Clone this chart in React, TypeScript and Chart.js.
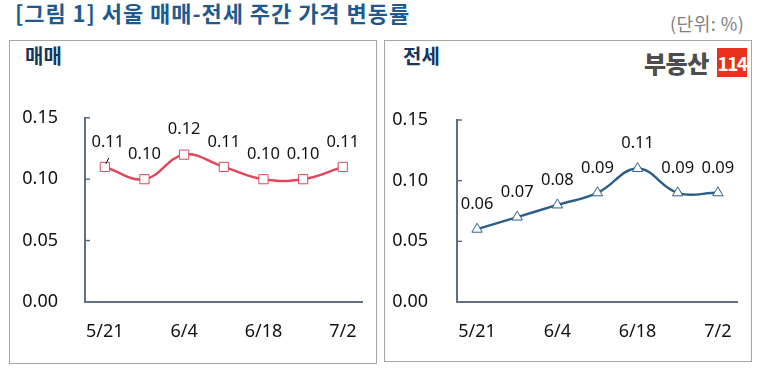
import React, { useEffect, useRef } from "react";
import { Chart, registerables } from "chart.js";

Chart.register(...registerables);

const categories = ["5/21", "5/28", "6/4", "6/11", "6/18", "6/25", "7/2"];
const saleValues = [0.11, 0.1, 0.12, 0.11, 0.1, 0.1, 0.11];
const jeonseValues = [0.06, 0.07, 0.08, 0.09, 0.11, 0.09, 0.09];
const yTicks = [0, 0.05, 0.1, 0.15];

const FONT = "'Noto Sans CJK KR', 'Noto Sans', sans-serif";
const NUM_FONT = "'Noto Sans', 'Noto Sans CJK KR', sans-serif";
const AXIS_COLOR = "#5f6f84";

const labelPlugin = {
  id: "valueLabels",
  afterDatasetsDraw(chart: any) {
    const opts = chart.options.plugins.valueLabels || {};
    const ctx = chart.ctx;
    ctx.save();
    ctx.font = `16.5px ${NUM_FONT}`;
    ctx.fillStyle = "#111";
    ctx.textAlign = "center";
    ctx.textBaseline = "middle";
    chart.data.datasets.forEach((ds: any, di: number) => {
      const meta = chart.getDatasetMeta(di);
      meta.data.forEach((el: any, i: number) => {
        const v = ds.data[i];
        let dx = 0;
        if (opts.leaderIndex === i) {
          dx = 3;
          ctx.strokeStyle = "#111";
          ctx.lineWidth = 1;
          ctx.beginPath();
          ctx.moveTo(el.x + 1, el.y - 3);
          ctx.lineTo(el.x + 4, el.y - 9);
          ctx.stroke();
        }
        ctx.fillText(v.toFixed(2), el.x + dx, el.y - (opts.offset || 25));
      });
    });
    ctx.restore();
  },
};

const innerTicksPlugin = {
  id: "innerTicks",
  afterDraw(chart: any) {
    const y = chart.scales.y;
    const ctx = chart.ctx;
    ctx.save();
    ctx.strokeStyle = AXIS_COLOR;
    ctx.lineWidth = 1.5;
    y.ticks.forEach((t: any) => {
      const py = y.getPixelForValue(t.value);
      ctx.beginPath();
      ctx.moveTo(chart.chartArea.left, py);
      ctx.lineTo(chart.chartArea.left + 5, py);
      ctx.stroke();
    });
    ctx.restore();
  },
};

function LineChart(props: {
  values: number[];
  color: string;
  pointStyle: string;
  pointRadius: number;
  yWidth: number;
  padTop: number;
  padRight: number;
  yPad: number;
  leaderIndex?: number;
}) {
  const ref = useRef<HTMLCanvasElement>(null);
  useEffect(() => {
    const chart = new Chart(ref.current as HTMLCanvasElement, {
      type: "line",
      data: {
        labels: categories,
        datasets: [
          {
            data: props.values,
            borderColor: props.color,
            borderWidth: 2.4,
            tension: 0.4,
            pointStyle: props.pointStyle as any,
            pointRadius: props.pointRadius,
            pointBackgroundColor: "#fff",
            pointBorderColor: props.color,
            pointBorderWidth: 1,
          },
        ],
      },
      options: {
        animation: false,
        responsive: false,
        events: [],
        layout: { padding: { left: 0, right: props.padRight, top: props.padTop, bottom: 0 } },
        plugins: {
          legend: { display: false },
          tooltip: { enabled: false },
          valueLabels: { offset: 25, leaderIndex: props.leaderIndex },
        } as any,
        scales: {
          x: {
            offset: true,
            grid: { display: false, drawTicks: false },
            border: { display: true, color: AXIS_COLOR, width: 2 },
            ticks: {
              autoSkip: false,
              maxRotation: 0,
              padding: 19,
              color: "#111",
              font: { family: NUM_FONT, size: 18 },
              callback: (_v: any, i: number) => (i % 2 === 0 ? categories[i] : ""),
            },
            afterFit: (s: any) => {
              s.height = 60;
            },
          },
          y: {
            min: 0,
            max: 0.15,
            afterBuildTicks: (s: any) => {
              s.ticks = yTicks.map((v) => ({ value: v }));
            },
            grid: { display: false, drawTicks: false },
            border: { display: true, color: AXIS_COLOR, width: 2 },
            ticks: {
              padding: props.yPad,
              color: "#111",
              font: { family: NUM_FONT, size: 18 },
              callback: (v: any) => Number(v).toFixed(2),
            },
            afterFit: (s: any) => {
              s.width = props.yWidth;
            },
          },
        },
      },
      plugins: [labelPlugin, innerTicksPlugin],
    });
    return () => chart.destroy();
  }, []);
  return <canvas ref={ref} width={366} height={282} style={{ display: "block" }} />;
}

export default function App() {
  return (
    <div
      style={{
        position: "fixed",
        left: 0,
        top: 0,
        width: 758,
        height: 369,
        background: "#fff",
        fontFamily: FONT,
        overflow: "hidden",
      }}
    >
      <div
        style={{
          position: "absolute",
          left: 15,
          top: -4,
          fontSize: 22,
          fontWeight: 700,
          color: "#1f5a8f",
          whiteSpace: "nowrap",
          letterSpacing: 0.95,
        }}
      >
        [그림 1] 서울 매매-전세 주간 가격 변동률
      </div>
      <div
        style={{
          position: "absolute",
          left: 670,
          top: 10,
          fontSize: 18,
          color: "#7f7f7f",
          whiteSpace: "nowrap",
          letterSpacing: 0.5,
        }}
      >
        (단위: %)
      </div>

      <div
        style={{
          position: "absolute",
          left: 9,
          top: 40,
          width: 366,
          height: 322,
          border: "1px solid #a6a6a6",
        }}
      />
      <div
        style={{
          position: "absolute",
          left: 384,
          top: 40,
          width: 366,
          height: 320,
          border: "1px solid #a6a6a6",
        }}
      />
      <div
        style={{
          position: "absolute",
          left: 25,
          top: 41,
          fontSize: 20,
          fontWeight: 700,
          color: "#17365d",
        }}
      >
        매매
      </div>
      <div
        style={{
          position: "absolute",
          left: 403,
          top: 41,
          fontSize: 20,
          fontWeight: 700,
          color: "#17365d",
        }}
      >
        전세
      </div>
      <div
        style={{
          position: "absolute",
          left: 644,
          top: 48,
          height: 29,
          display: "flex",
          alignItems: "center",
        }}
      >
        <span
          style={{
            fontSize: 24,
            fontWeight: 900,
            color: "#4d4d4d",
            letterSpacing: -0.5,
            lineHeight: "29px",
            width: 73,
            display: "inline-block",
            whiteSpace: "nowrap",
          }}
        >
          부동산
        </span>
        <span
          style={{
            width: 30,
            height: 29,
            background: "#e8321e",
            color: "#fff",
            fontSize: 19,
            fontWeight: 700,
            display: "flex",
            alignItems: "center",
            justifyContent: "center",
            letterSpacing: -1.5,
          }}
        >
          114
        </span>
      </div>

      <div style={{ position: "absolute", left: 10, top: 80 }}>
        <LineChart
          values={saleValues}
          color="#e2465a"
          pointStyle="rect"
          pointRadius={6.5}
          yWidth={75}
          padTop={34}
          padRight={8}
          yPad={27}
          leaderIndex={0}
        />
      </div>
      <div style={{ position: "absolute", left: 385, top: 80 }}>
        <LineChart
          values={jeonseValues}
          color="#2c5f88"
          pointStyle="triangle"
          pointRadius={6}
          yWidth={72}
          padTop={40}
          padRight={0}
          yPad={29}
        />
      </div>
    </div>
  );
}
